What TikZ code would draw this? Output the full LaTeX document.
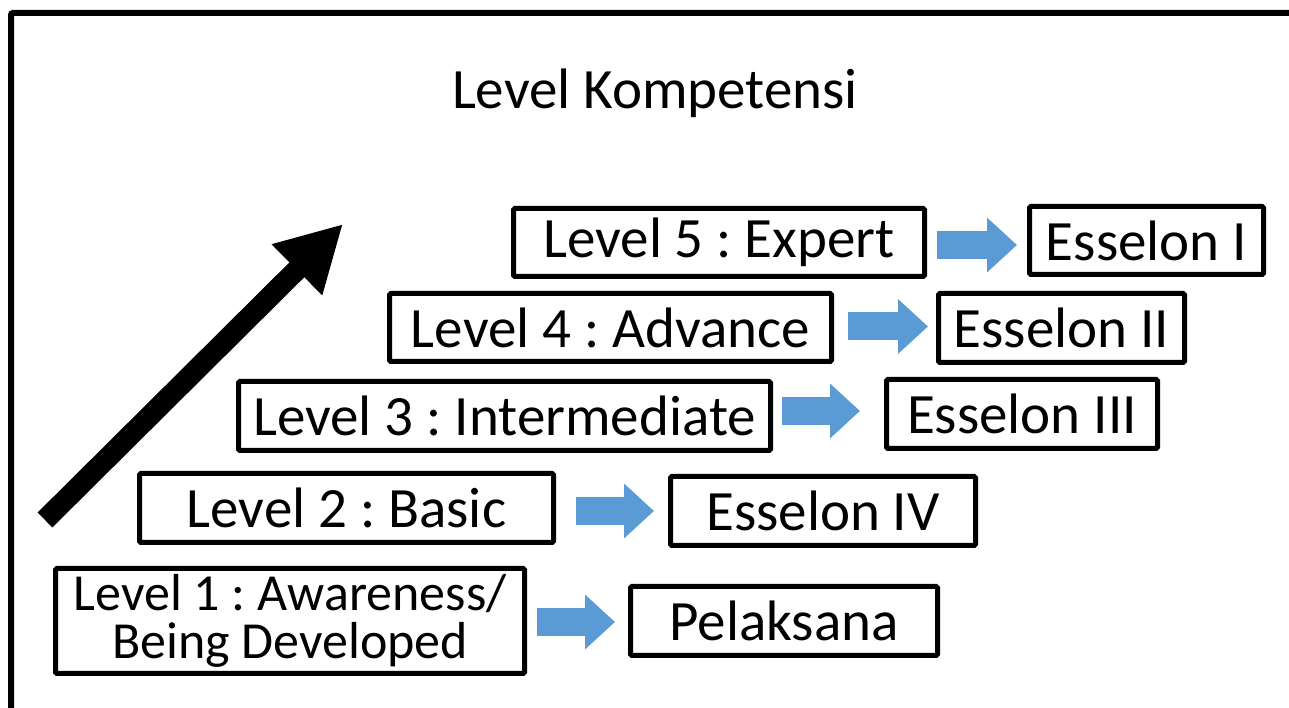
\documentclass[tikz,border=0pt]{standalone}
\usepackage{fontspec}
\setmainfont{Carlito}
\usetikzlibrary{arrows.meta}
\definecolor{arrowblue}{HTML}{5B9BD5}
\frenchspacing
\tikzset{
  lvlbox/.style={draw=black, line width=5pt, rounded corners=1.5pt, inner sep=0pt,
    font=\fontsize{57}{62}\selectfont, text=black},
  blueconn/.style={draw=arrowblue, line width=28pt,
    -{Triangle[length=30pt,width=53pt]}},
  bigarrow/.style={draw=black, line width=21pt,
    -{Triangle[length=65pt,width=67pt]}},
  frameline/.style={draw=black, line width=6pt, rounded corners=2pt},
}
\begin{document}
\begin{tikzpicture}[x=1pt,y=1pt]
\useasboundingbox (0,0) rectangle (1289,708);
\fill[white] (0,0) rectangle (1289,708);
\begin{scope}
\clip (0,0) rectangle (1289,708);
\draw[frameline] (1300,695) -- (11,695) -- (11,-20);
\end{scope}

\node[font=\fontsize{57}{62}\selectfont] (title) at (655,615) {Level Kompetensi};

% level boxes: width/height = outer - line width
\node[lvlbox, minimum width=411pt, minimum height=68pt] (L5) at (719,465.5) {Level 5 : Expert};
\node[lvlbox, minimum width=234pt, minimum height=68pt] (E1) at (1146.5,467.5) {Esselon I};
\node[lvlbox, minimum width=442pt, minimum height=68pt] (L4) at (610.5,380.5) {Level 4 : Advance};
\node[lvlbox, minimum width=246pt, minimum height=69pt] (E2) at (1061.5,380) {Esselon II};
\node[lvlbox, minimum width=532pt, minimum height=69pt] (L3) at (504.5,292) {Level 3 : Intermediate};
\node[lvlbox, minimum width=271pt, minimum height=69pt] (E3) at (1022,294) {Esselon III};
\node[lvlbox, minimum width=414pt, minimum height=69pt] (L2) at (346.5,200) {Level 2 : Basic};
\node[lvlbox, minimum width=305pt, minimum height=69pt] (E4) at (823,197) {Esselon IV};
\node[lvlbox, minimum width=469pt, minimum height=105pt, align=center,
      font=\fontsize{52}{48}\selectfont] (L1) at (290,87) {Level 1 : Awareness/\\Being Developed};
\node[lvlbox, minimum width=307pt, minimum height=69pt] (P) at (784,87) {Pelaksana};

% blue connectors
\draw[blueconn] ([xshift=10pt,yshift=-2.5pt]L5.east) -- ([xshift=-10pt,yshift=-2.5pt]L5.east -| E1.west);
\draw[blueconn] ([xshift=14pt,yshift=1pt]L4.east) -- ([xshift=-8pt,yshift=1pt]L4.east -| E2.west);
\draw[blueconn] ([xshift=9pt,yshift=5pt]L3.east) -- ([xshift=-24pt,yshift=5pt]L3.east -| E3.west);
\draw[blueconn] ([xshift=20pt,yshift=-3pt]L2.east) -- ([xshift=-14pt,yshift=-3pt]L2.east -| E4.west);
\draw[blueconn] ([xshift=10pt,yshift=-1pt]L1.east) -- ([xshift=-13pt,yshift=-1pt]L1.east -| P.west);

% big black arrow
\coordinate (tail) at (45,188);
\coordinate (tip) at (343,484);
\draw[bigarrow] (tail) -- (tip);
\end{tikzpicture}
\end{document}
